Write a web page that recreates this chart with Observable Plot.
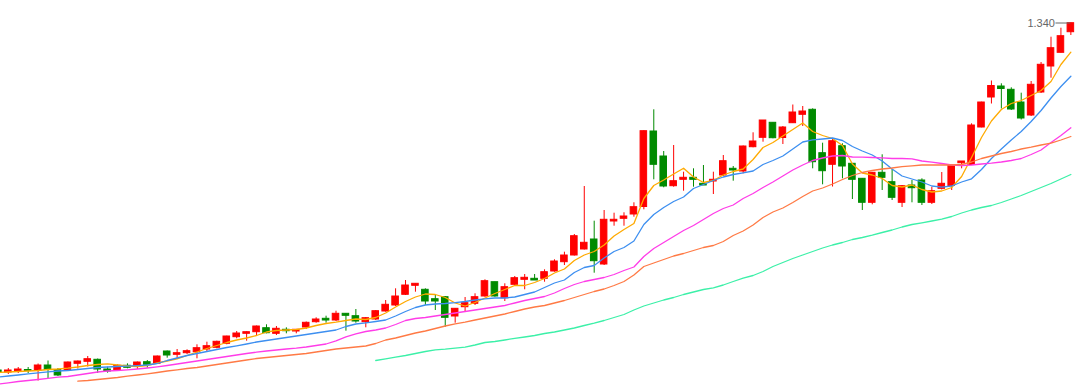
<!DOCTYPE html>
<html><head><meta charset="utf-8">
<script src="https://cdn.jsdelivr.net/npm/d3@7"></script>
<script src="https://cdn.jsdelivr.net/npm/@observablehq/plot@0.6"></script>
<style>html,body{margin:0;padding:0;background:#fff;}#chart svg{display:block;}</style>
</head><body><div id="chart"></div>
<script>
// Daily candles (first one is only partly visible at the left edge)
const firstDay = -1;
const open = [0.9925,
0.9905,0.9915,0.9930,0.9920,0.9975,0.9930,0.9925,0.9992,1.0012,1.0032,
0.9935,0.9925,0.9972,0.9968,1.0008,0.9992,1.0115,1.0082,1.0098,1.0108,
1.0135,1.0152,1.0192,1.0258,1.0292,1.0308,1.0348,1.0292,1.0332,1.0315,
1.0355,1.0408,1.0442,1.0425,1.0492,1.0468,1.0408,1.0435,1.0515,1.0575,
1.0682,1.0772,1.0732,1.0638,1.0658,1.0465,1.0558,1.0592,1.0665,1.0808,
1.0648,1.0782,1.0832,1.0842,1.0842,1.0915,1.1008,1.1075,1.1135,1.1235,
1.0985,1.1415,1.1442,1.1485,1.1560,1.2315,1.2065,1.1768,1.1832,1.1852,
1.1792,1.1815,1.1875,1.1942,1.1915,1.2158,1.2252,1.2402,1.2250,1.2398,
1.2482,1.2532,1.2098,1.1982,1.2168,1.1992,1.1842,1.1602,1.1902,1.1808,
1.1602,1.1775,1.1825,1.1602,1.1742,1.1770,1.1998,1.1980,1.2355,1.2655,
1.2765,1.2732,1.2605,1.2475,1.2705,1.2965,1.3102,1.3308];
const close = [0.9905,
0.9925,0.9935,0.9920,0.9975,0.9930,0.9875,1.0005,1.0015,1.0038,0.9935,
0.9915,0.9972,0.9952,1.0005,0.9982,1.0065,1.0075,1.0098,1.0118,1.0148,
1.0168,1.0212,1.0265,1.0295,1.0308,1.0365,1.0298,1.0342,1.0318,1.0332,
1.0402,1.0435,1.0425,1.0492,1.0472,1.0415,1.0448,1.0518,1.0582,1.0665,
1.0775,1.0792,1.0615,1.0615,1.0452,1.0542,1.0598,1.0658,1.0818,1.0665,
1.0758,1.0848,1.0852,1.0825,1.0908,1.1015,1.1075,1.1268,1.1202,1.1018,
1.1432,1.1432,1.1465,1.1558,1.2318,1.1982,1.1765,1.1818,1.1852,1.1832,
1.1775,1.1832,1.2018,1.1925,1.2165,1.2215,1.2425,1.2248,1.2355,1.2505,
1.2515,1.2008,1.1918,1.2218,1.1965,1.1832,1.1602,1.1902,1.1852,1.1652,
1.1768,1.1748,1.1602,1.1718,1.1792,1.1975,1.2015,1.2375,1.2605,1.2770,
1.2740,1.2535,1.2445,1.2782,1.2982,1.3148,1.3268,1.3398];
const high = [0.9945,
0.9945,0.9955,0.9955,0.9990,1.0020,0.9945,1.0010,1.0020,1.0065,1.0040,
0.9958,0.9982,0.9992,1.0010,1.0025,1.0070,1.0120,1.0135,1.0132,1.0182,
1.0208,1.0218,1.0268,1.0315,1.0312,1.0370,1.0382,1.0365,1.0352,1.0332,
1.0410,1.0452,1.0468,1.0518,1.0495,1.0535,1.0455,1.0525,1.0625,1.0742,
1.0825,1.0792,1.0742,1.0675,1.0665,1.0545,1.0655,1.0692,1.0832,1.0808,
1.0792,1.0865,1.0885,1.0885,1.0932,1.1032,1.1108,1.1285,1.1765,1.1418,
1.1525,1.1498,1.1502,1.1602,1.2322,1.2532,1.2115,1.2175,1.1908,1.1942,
1.1975,1.1908,1.2075,1.1965,1.2170,1.2302,1.2425,1.2402,1.2365,1.2580,
1.2565,1.2542,1.2198,1.2242,1.2192,1.1995,1.1845,1.1905,1.2082,1.1935,
1.1775,1.1825,1.1842,1.1758,1.1905,1.1975,1.2015,1.2392,1.2608,1.2820,
1.2792,1.2752,1.2698,1.2815,1.3005,1.3258,1.3348,1.3400];
const low = [0.9885,
0.9885,0.9895,0.9895,0.9820,0.9845,0.9865,0.9915,0.9940,0.9960,0.9895,
0.9898,0.9918,0.9942,0.9935,0.9948,0.9985,1.0048,1.0042,1.0085,1.0042,
1.0108,1.0142,1.0182,1.0242,1.0218,1.0275,1.0292,1.0275,1.0292,1.0292,
1.0335,1.0398,1.0398,1.0415,1.0318,1.0398,1.0352,1.0425,1.0508,1.0565,
1.0675,1.0708,1.0575,1.0525,1.0358,1.0398,1.0515,1.0575,1.0658,1.0658,
1.0615,1.0775,1.0732,1.0825,1.0808,1.0908,1.0975,1.1070,1.1130,1.0898,
1.0975,1.1368,1.1368,1.1458,1.1532,1.1832,1.1752,1.1758,1.1718,1.1758,
1.1775,1.1685,1.1865,1.1818,1.1892,1.2152,1.2208,1.2242,1.2185,1.2395,
1.2365,1.1942,1.1782,1.1760,1.1842,1.1635,1.1525,1.1582,1.1725,1.1625,
1.1555,1.1602,1.1575,1.1585,1.1730,1.1725,1.1942,1.1975,1.2352,1.2590,
1.2540,1.2525,1.2430,1.2465,1.2695,1.2848,1.3100,1.3275];

// Moving averages (null where the line is not drawn)
const ma5 = [0.9905,
0.9910,0.9915,0.9920,0.9925,0.9935,0.9940,0.9948,0.9960,0.9975,0.9985,
0.9992,0.9980,0.9970,0.9965,0.9975,1.0000,1.0020,1.0042,1.0075,1.0110,
1.0145,1.0175,1.0205,1.0230,1.0250,1.0275,1.0310,1.0325,1.0330,1.0335,
1.0350,1.0375,1.0395,1.0408,1.0425,1.0440,1.0435,1.0455,1.0500,1.0560,
1.0615,1.0660,1.0690,1.0685,1.0655,1.0600,1.0570,1.0605,1.0650,1.0695,
1.0735,1.0775,1.0775,1.0805,1.0845,1.0900,1.0940,1.1025,1.1080,1.1115,
1.1180,1.1270,1.1335,1.1395,1.1645,1.1775,1.1830,1.1890,1.1948,1.1860,
1.1805,1.1825,1.1880,1.1915,1.1940,1.2035,1.2155,1.2205,1.2270,1.2335,
1.2400,1.2315,1.2275,1.2245,1.2175,1.1990,1.1900,1.1880,1.1845,1.1775,
1.1760,1.1780,1.1735,1.1710,1.1720,1.1755,1.1865,1.2055,1.2255,1.2420,
1.2535,1.2595,1.2625,1.2675,1.2725,1.2815,1.2985,1.3108];
const ma10 = [0.9860,
0.9870,0.9880,0.9892,0.9902,0.9912,0.9920,0.9925,0.9935,0.9945,0.9955,
0.9960,0.9965,0.9968,0.9973,0.9980,0.9995,1.0025,1.0050,1.0075,1.0095,
1.0115,1.0135,1.0155,1.0172,1.0190,1.0210,1.0225,1.0240,1.0255,1.0270,
1.0285,1.0300,1.0315,1.0330,1.0365,1.0390,1.0402,1.0415,1.0430,1.0470,
1.0515,1.0555,1.0580,1.0590,1.0595,1.0603,1.0615,1.0630,1.0642,1.0650,
1.0650,1.0660,1.0685,1.0710,1.0755,1.0800,1.0830,1.0905,1.0955,1.0975,
1.1050,1.1115,1.1155,1.1220,1.1385,1.1485,1.1555,1.1615,1.1660,1.1745,
1.1785,1.1825,1.1860,1.1885,1.1902,1.1920,1.1985,1.2025,1.2070,1.2140,
1.2210,1.2232,1.2240,1.2250,1.2225,1.2165,1.2120,1.2080,1.2020,1.1940,
1.1870,1.1840,1.1810,1.1770,1.1758,1.1770,1.1810,1.1842,1.1935,1.2045,
1.2140,1.2230,1.2315,1.2415,1.2525,1.2650,1.2765,1.2868];
const ma20 = [0.9790,
0.9802,0.9815,0.9825,0.9835,0.9847,0.9858,0.9865,0.9880,0.9895,0.9910,
0.9920,0.9925,0.9932,0.9940,0.9950,0.9962,0.9975,0.9990,1.0005,1.0020,
1.0035,1.0050,1.0065,1.0080,1.0095,1.0108,1.0120,1.0130,1.0140,1.0148,
1.0160,1.0175,1.0190,1.0222,1.0262,1.0292,1.0315,1.0330,1.0350,1.0385,
1.0425,1.0445,1.0455,1.0470,1.0485,1.0500,1.0515,1.0530,1.0545,1.0560,
1.0575,1.0600,1.0625,1.0645,1.0665,1.0700,1.0745,1.0785,1.0815,1.0835,
1.0855,1.0885,1.0925,1.0960,1.1065,1.1145,1.1205,1.1265,1.1325,1.1375,
1.1435,1.1495,1.1545,1.1580,1.1645,1.1695,1.1755,1.1810,1.1870,1.1930,
1.1980,1.2025,1.2050,1.2070,1.2075,1.2060,1.2058,1.2055,1.2052,1.2045,
1.2045,1.2042,1.2020,1.2008,1.1995,1.1980,1.1975,1.1980,1.1990,1.1998,
1.2010,1.2025,1.2045,1.2085,1.2130,1.2205,1.2275,1.2352];
const ma30 = [null,
null,null,null,null,null,null,null,0.9818,0.9825,0.9835,
0.9845,0.9855,0.9868,0.9880,0.9892,0.9905,0.9920,0.9932,0.9945,0.9955,
0.9970,0.9985,1.0000,1.0015,1.0030,1.0045,1.0055,1.0065,1.0075,1.0085,
1.0095,1.0110,1.0125,1.0140,1.0150,1.0160,1.0170,1.0195,1.0230,1.0250,
1.0275,1.0300,1.0320,1.0345,1.0370,1.0392,1.0408,1.0430,1.0450,1.0470,
1.0490,1.0515,1.0540,1.0560,1.0575,1.0600,1.0625,1.0655,1.0685,1.0715,
1.0740,1.0775,1.0815,1.0880,1.0965,1.1000,1.1035,1.1070,1.1095,1.1125,
1.1155,1.1175,1.1215,1.1275,1.1320,1.1380,1.1455,1.1510,1.1550,1.1605,
1.1665,1.1720,1.1750,1.1790,1.1835,1.1875,1.1905,1.1925,1.1940,1.1950,
1.1963,1.1972,1.1980,1.1982,1.1980,1.1980,1.1985,1.2010,1.2045,1.2070,
1.2095,1.2115,1.2140,1.2158,1.2180,1.2198,1.2230,1.2265];
const ma60 = [null,
null,null,null,null,null,null,null,null,null,null,
null,null,null,null,null,null,null,null,null,null,
null,null,null,null,null,null,null,null,null,null,
null,null,null,null,null,null,null,1.0025,1.0042,1.0058,
1.0075,1.0095,1.0115,1.0132,1.0138,1.0148,1.0158,1.0180,1.0205,1.0215,
1.0230,1.0247,1.0260,1.0275,1.0295,1.0310,1.0330,1.0350,1.0375,1.0398,
1.0425,1.0455,1.0485,1.0530,1.0570,1.0600,1.0630,1.0655,1.0685,1.0710,
1.0735,1.0752,1.0780,1.0815,1.0848,1.0875,1.0915,1.0965,1.1005,1.1045,
1.1080,1.1115,1.1150,1.1180,1.1205,1.1235,1.1255,1.1278,1.1305,1.1330,
1.1360,1.1385,1.1402,1.1420,1.1438,1.1465,1.1500,1.1530,1.1555,1.1575,
1.1605,1.1640,1.1675,1.1715,1.1755,1.1795,1.1840,1.1885];

const maNames = ["MA5", "MA10", "MA20", "MA30", "MA60"];
const maColors = ["#ffaa00", "#3d8ff0", "#ff3ce8", "#ff7a45", "#3cf0a8"];
const upColor = "#ff0000", downColor = "#008a00";

const days = open.map((_, i) => i + firstDay);
const candles = days.map((d, i) => ({
  day: d, open: open[i], close: close[i], high: high[i], low: low[i],
  color: close[i] >= open[i] ? upColor : downColor
}));
const maRows = [ma5, ma10, ma20, ma30, ma60].flatMap((arr, k) =>
  arr.map((v, i) => ({day: days[i], value: v, name: maNames[k], color: maColors[k]}))
     .filter(r => r.value != null));
const peak = candles.reduce((a, b) => (b.high > a.high ? b : a));

const half = 0.33;    // half body width, in days
const labelGap = 1.5; // length of the leader line, in days

const chart = Plot.plot({
  width: 1080, height: 391,
  marginTop: 0, marginRight: 0, marginBottom: 0, marginLeft: 0,
  style: {background: "#fff", fontFamily: "'Liberation Sans', Arial, sans-serif"},
  x: {type: "linear", domain: [-0.7855, 107.97], axis: null},
  y: {domain: [0.9715, 1.3625], axis: null},
  color: {type: "identity"},
  marks: [
    Plot.ruleX(candles, {x: "day", y1: "low", y2: "high", stroke: "color", strokeWidth: 1, clip: true}),
    Plot.rect(candles, {x1: d => d.day - half, x2: d => d.day + half, y1: "open", y2: "close",
      fill: "color", stroke: "color", strokeWidth: 1, clip: true}),
    Plot.line(maRows, {x: "day", y: "value", z: "name", stroke: "color",
      strokeWidth: 1.3, curve: "linear", clip: true}),
    Plot.ruleY([peak], {y: "high", x1: d => d.day - labelGap, x2: "day", stroke: "#666", strokeWidth: 1}),
    Plot.text([peak], {x: d => d.day - labelGap, y: "high", text: d => d3.format(".3f")(d.high),
      textAnchor: "end", fill: "#666", fontSize: 11, dx: -1})
  ]
});
document.getElementById("chart").appendChild(chart);
</script>
</body></html>
